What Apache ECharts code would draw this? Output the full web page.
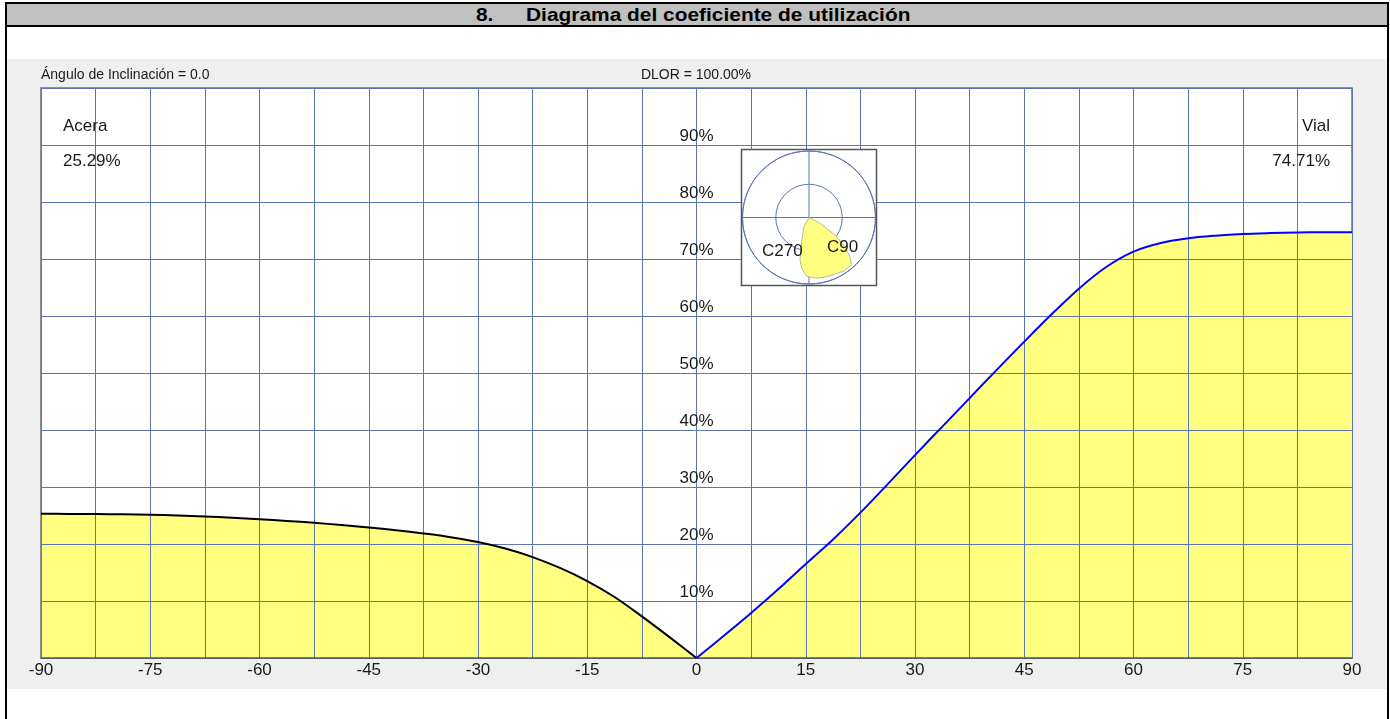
<!DOCTYPE html>
<html>
<head>
<meta charset="utf-8">
<script src="https://cdn.jsdelivr.net/npm/echarts@6/dist/echarts.min.js"></script>
<style>
  html, body { margin: 0; padding: 0; background: #fff; width: 1390px; height: 719px; overflow: hidden; }
  body { position: relative; font-family: "Liberation Sans", Arial, sans-serif; }
  .frame { position: absolute; left: 5px; top: 2px; width: 1380px; height: 760px; border: 2px solid #000; }
  .head { position: absolute; left: 7px; top: 4px; width: 1380px; height: 21px; background: #c0c0c0; border-bottom: 2px solid #000; }
  .head span { position: absolute; top: 0px; font-weight: bold; font-size: 19px; color: #000; white-space: nowrap;
    transform: scaleX(1.1); transform-origin: left center; }
  .panel { position: absolute; left: 7px; top: 59px; width: 1380px; height: 630px; background: #efefef; }
  #chart { position: absolute; left: 7px; top: 59px; width: 1380px; height: 630px; }
</style>
</head>
<body>
<div class="frame"></div>
<div class="head"><span style="left:469px">8.</span><span style="left:519px">Diagrama del coeficiente de utilización</span></div>
<div class="panel"></div>
<div id="chart"></div>
<script>
// lado acera (C270), angulo -> porcentaje
const leftAngles = [-90, -86.25, -82.5, -78.75, -75, -71.25, -67.5, -63.75, -60, -56.25, -52.5, -48.75,
  -45, -41.25, -37.5, -33.75, -30, -26.25, -22.5, -18.75, -15, -11.25, -7.5, -3.75, 0]
const leftValues = [25.29, 25.28, 25.25, 25.2, 25.13, 25.0, 24.83, 24.6, 24.35, 24.05, 23.72, 23.33,
  22.9, 22.42, 21.85, 21.2, 20.35, 19.2, 17.7, 15.8, 13.5, 10.7, 7.3, 3.7, 0]
// lado vial (C90)
const rightAngles = [0, 3.75, 7.5, 11.25, 15, 18.75, 22.5, 26.25, 30, 33.75, 37.5, 41.25,
  45, 48.75, 52.5, 56.25, 60, 63.75, 67.5, 71.25, 75, 78.75, 82.5, 86.25, 90]
const rightValues = [0, 3.9, 7.9, 12.1, 16.5, 20.8, 25.5, 30.5, 35.6, 40.6, 45.6, 50.6,
  55.5, 60.3, 64.8, 68.6, 71.3, 72.8, 73.65, 74.1, 74.4, 74.55, 74.65, 74.7, 74.71]
// diagrama polar pequeño
const polarRadii = [0, 0.19, 0.50, 0.69, 0.85, 0.955, 0.96, 0.93, 0.92, 0.885, 0.77, 0.65, 0.35, 0.155, 0]
const polarAngles = [120, 117, 124.5, 129, 133.6, 138, 147.6, 163.5, 172.8, 182.3, 188.2, 192, 198, 209, 225]

const labels = {
  inclinacion: 'Ángulo de Inclinación = 0.0',
  dlor: 'DLOR = 100.00%',
  acera: 'Acera', aceraPct: '25.29%',
  vial: 'Vial', vialPct: '74.71%'
}

const FONT = '"Liberation Sans", Arial, sans-serif'
const GRID_COLOR = '#5d75b2'
const YELLOW = '#ffff80'

const zip = (a, b) => a.map((v, i) => [v, b[i]])

const txt = (text, x, y, size, align) => ({
  type: 'text', z: 20,
  style: {
    text, x, y, font: size + 'px ' + FONT, fill: '#1a1a1a',
    align: align, textAlign: align, verticalAlign: 'middle', textVerticalAlign: 'middle'
  }
})

const chart = echarts.init(document.getElementById('chart'))
chart.setOption({
  animation: false,
  grid: {
    left: 34, right: 35, top: 29, bottom: 31,
    show: true, backgroundColor: '#fff', borderColor: '#707070', borderWidth: 1.5
  },
  xAxis: {
    type: 'value', min: -90, max: 90, interval: 7.5, z: 3,
    axisLine: {lineStyle: {color: '#555', width: 1.5}},
    axisTick: {show: false},
    splitLine: {lineStyle: {color: GRID_COLOR, width: 1}},
    axisLabel: {
      color: '#1a1a1a', fontSize: 17, fontFamily: FONT, margin: 4,
      showMinLabel: true, showMaxLabel: true,
      formatter: v => (Math.abs(v % 15) < 0.01 ? String(v) : '')
    }
  },
  yAxis: {
    type: 'value', min: 0, max: 100, interval: 10, z: 3,
    position: 'left', offset: -655.5,
    axisLine: {show: false},
    axisTick: {show: false},
    splitLine: {lineStyle: {color: GRID_COLOR, width: 1}},
    axisLabel: {
      color: '#1a1a1a', fontSize: 17, fontFamily: FONT, margin: 0,
      align: 'center', verticalAlign: 'bottom',
      formatter: v => (v === 0 || v === 100 ? '' : v + '%')
    }
  },
  polar: {center: [802, 158.5], radius: 66.5},
  angleAxis: {
    type: 'value', min: 0, max: 360, interval: 90, startAngle: 90, z: 9,
    axisLine: {lineStyle: {color: GRID_COLOR, width: 1}},
    axisTick: {show: false}, axisLabel: {show: false},
    splitLine: {lineStyle: {color: GRID_COLOR, width: 1}}
  },
  radiusAxis: {
    type: 'value', min: 0, max: 1, interval: 0.5, z: 9,
    axisLine: {show: false}, axisTick: {show: false}, axisLabel: {show: false},
    splitLine: {lineStyle: {color: GRID_COLOR, width: 1}}
  },
  graphic: [
    {type: 'rect', z: 8, shape: {x: 734.5, y: 90.5, width: 135, height: 136},
      style: {fill: '#fff', stroke: '#555', lineWidth: 1.5}},
    txt(labels.inclinacion, 34, 16.5, 14, 'left'),
    txt(labels.dlor, 689, 16.5, 14, 'center'),
    txt(labels.acera, 56, 67.5, 17, 'left'),
    txt(labels.aceraPct, 56, 102, 17, 'left'),
    txt(labels.vial, 1323, 67.5, 17, 'right'),
    txt(labels.vialPct, 1323, 102, 17, 'right'),
    txt('C270', 755, 192, 17, 'left'),
    txt('C90', 820, 188.5, 17, 'left')
  ],
  series: [
    {
      type: 'line', data: zip(leftAngles, leftValues), showSymbol: false, smooth: 0.3, z: 1,
      lineStyle: {width: 0}, areaStyle: {color: YELLOW, opacity: 1}
    },
    {
      type: 'line', data: zip(rightAngles, rightValues), showSymbol: false, smooth: 0.3, z: 1,
      lineStyle: {width: 0}, areaStyle: {color: YELLOW, opacity: 1}
    },
    {
      type: 'line', data: zip(leftAngles, leftValues), showSymbol: false, smooth: 0.3, z: 5,
      lineStyle: {color: '#000', width: 2}
    },
    {
      type: 'line', data: zip(rightAngles, rightValues), showSymbol: false, smooth: 0.3, z: 5,
      lineStyle: {color: '#0000ff', width: 2}
    },
    {
      type: 'line', coordinateSystem: 'polar', data: zip(polarRadii, polarAngles),
      showSymbol: false, z: 10,
      lineStyle: {color: '#b8b8a0', width: 1}, areaStyle: {color: YELLOW, opacity: 1}
    }
  ]
})
</script>
</body>
</html>
